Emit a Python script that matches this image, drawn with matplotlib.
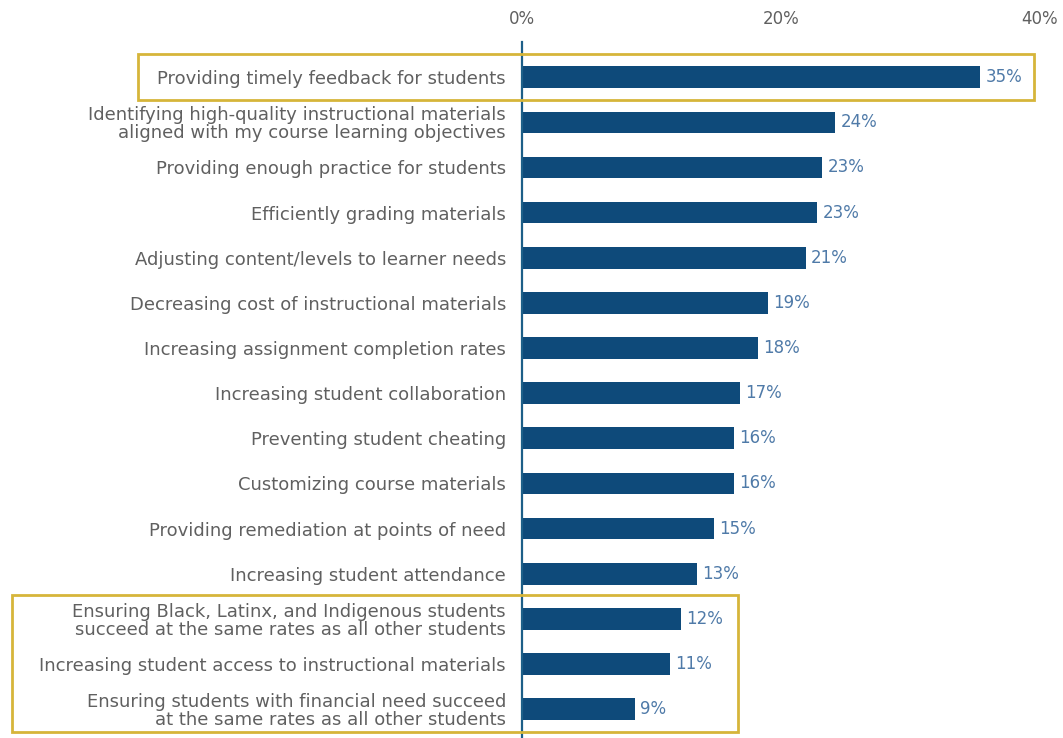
import matplotlib
matplotlib.use('Agg')
import matplotlib.pyplot as plt
from matplotlib.patches import Rectangle

# data
categories = [
    'Providing timely feedback for students',
    'Identifying high-quality instructional materials\naligned with my course learning objectives',
    'Providing enough practice for students',
    'Efficiently grading materials',
    'Adjusting content/levels to learner needs',
    'Decreasing cost of instructional materials',
    'Increasing assignment completion rates',
    'Increasing student collaboration',
    'Preventing student cheating',
    'Customizing course materials',
    'Providing remediation at points of need',
    'Increasing student attendance',
    'Ensuring Black, Latinx, and Indigenous students\nsucceed at the same rates as all other students',
    'Increasing student access to instructional materials',
    'Ensuring students with financial need succeed\nat the same rates as all other students',
]
values = [35.4, 24.2, 23.2, 22.8, 21.9, 19.0, 18.2, 16.8, 16.4, 16.4,
          14.8, 13.5, 12.3, 11.4, 8.7]
value_labels = ['35%', '24%', '23%', '23%', '21%', '19%', '18%', '17%',
                '16%', '16%', '15%', '13%', '12%', '11%', '9%']
xticks = [0, 20, 40]
xtick_labels = ['0%', '20%', '40%']

BAR = '#0e4a7a'
LBL = '#4f7aa8'
GRAY = '#606060'
GOLD = '#d6b53a'

plt.rcParams['font.family'] = ['DejaVu Sans']

fig = plt.figure(figsize=(10.63, 7.38), dpi=100)
ax = fig.add_axes([522 / 1063, 0, 518 / 1063, 1 - 42 / 738])

y = list(range(len(categories)))
ax.barh(y, values, height=0.48, color=BAR, zorder=2)

for yi, v, t in zip(y, values, value_labels):
    ax.text(v + 0.4, yi, t, va='center', ha='left', fontsize=12,
            color=LBL)

ax.set_xlim(0, 40)
ax.set_ylim(14.64, -0.78)

ax.set_yticks(y)
ax.set_yticklabels(categories, fontsize=13, color=GRAY, linespacing=1.0,
                   va='center_baseline')
ax.tick_params(axis='y', length=0, pad=11.5)

ax.xaxis.tick_top()
ax.set_xticks(xticks)
ax.set_xticklabels(xtick_labels, fontsize=12, color=GRAY)
ax.tick_params(axis='x', length=0, pad=10)

for s in ['top', 'right', 'bottom']:
    ax.spines[s].set_visible(False)
ax.spines['left'].set_color('#1d5f88')
ax.spines['left'].set_linewidth(1.6)
ax.spines['left'].set_zorder(3)

# highlight boxes (x in data %, rows)
boxes = [(-29.65, 39.5, 0, 0), (-39.4, 16.7, 12, 14)]
for x0, x1, r0, r1 in boxes:
    ax.add_patch(Rectangle((x0, r0 - 0.52), x1 - x0, (r1 - r0) + 1.02,
                           fill=False, edgecolor=GOLD, linewidth=2,
                           clip_on=False, zorder=4))

fig.savefig('out.png', dpi=100)
